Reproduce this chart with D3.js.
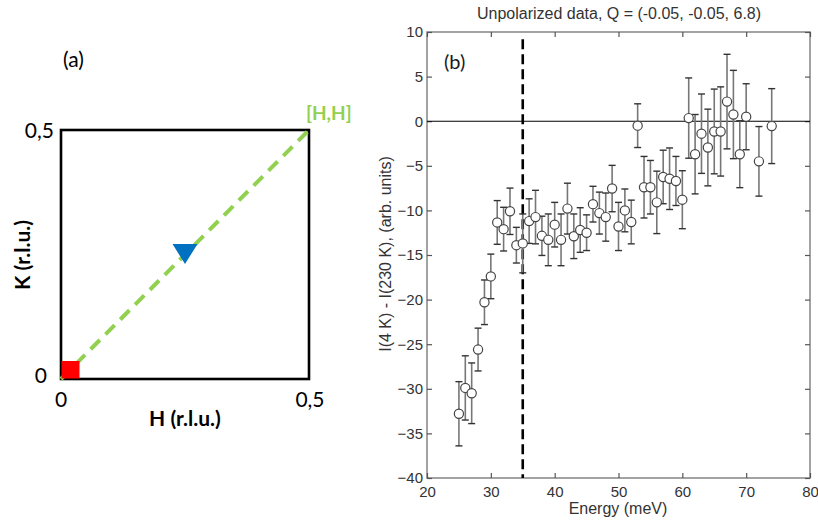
<!DOCTYPE html>
<html>
<head>
<meta charset="utf-8">
<script src="https://cdn.jsdelivr.net/npm/d3@7"></script>
<style>
  html, body { margin: 0; padding: 0; background: #fff; }
  svg { display: block; }
</style>
</head>
<body>
<svg id="chart" width="818" height="520"></svg>
<script>
// ---------- Panel (a) data ----------
const hkDomain = [0, 0.5];
const hkTickLabels = ["0", "0,5"];
const pathHH = [[0, 0], [0.5, 0.5]];
const redSquarePoint = [0, 0];
const blueTrianglePoint = [0.25, 0.25];

// ---------- Panel (b) data ----------
const energy = [25,26,27,28,29,30,31,32,33,34,35,36,37,38,39,40,41,42,43,44,45,46,47,48,49,50,
                51,52,53,54,55,56,57,58,59,60,61,62,63,64,65,66,67,68,69,70,72,74];
const intensity = [-32.8,-29.9,-30.5,-25.6,-20.3,-17.4,-11.35,-12.1,-10.1,-13.9,-13.7,-11.2,-10.75,-12.85,-13.3,-11.6,-13.3,-9.8,-12.9,-12.2,-12.5,-9.3,-10.3,-10.75,-7.55,-11.8,
                   -10.0,-11.3,-0.5,-7.4,-7.4,-9.1,-6.25,-6.45,-6.7,-8.8,0.35,-3.7,-1.4,-2.95,-1.15,-1.15,2.2,0.75,-3.7,0.5,-4.5,-0.55];
const errors = [3.6,3.6,3.4,2.4,2.5,2.5,2.45,2.45,2.6,2.0,3.3,2.5,3.0,2.2,2.9,2.5,2.9,2.85,2.5,2.5,2.0,2.0,2.35,2.7,2.6,2.7,
                2.4,2.45,2.45,3.45,3.0,3.5,3.0,3.45,2.75,3.25,4.5,4.45,4.45,4.3,4.75,5.0,5.3,4.95,3.75,3.7,3.9,4.2];
const energyTicks = [20,30,40,50,60,70,80];
const intensityTicks = [-40,-35,-30,-25,-20,-15,-10,-5,0,5,10];
const gapEnergy = 35;

const svg = d3.select("#chart");

// ================= Panel (a) =================
const ax = d3.scaleLinear().domain(hkDomain).range([61, 309]);
const ay = d3.scaleLinear().domain(hkDomain).range([379, 130]);
const fa = "Lato, 'Open Sans', sans-serif";
const fsA = 21;
const ga = svg.append("g");

ga.append("rect")
  .attr("x", ax(0)).attr("y", ay(0.5))
  .attr("width", ax(0.5) - ax(0)).attr("height", ay(0) - ay(0.5))
  .attr("fill", "none").attr("stroke", "#000").attr("stroke-width", 2.6);

ga.append("path")
  .datum(pathHH)
  .attr("d", d3.line().x(d => ax(d[0])).y(d => ay(d[1])))
  .attr("stroke", "#92d050").attr("stroke-width", 4)
  .attr("stroke-dasharray", "13,8").attr("fill", "none");

ga.append("rect")
  .attr("x", ax(redSquarePoint[0]) + 0.5).attr("y", ay(redSquarePoint[1]) - 18)
  .attr("width", 18).attr("height", 17.5)
  .attr("fill", "#ff0000");

ga.append("path")
  .attr("transform", `translate(${ax(blueTrianglePoint[0])},${ay(blueTrianglePoint[1])})`)
  .attr("d", "M-12.5,-10.5 L12.5,-10.5 L0,9.5 Z")
  .attr("fill", "#0070c0");

// tick labels
ga.append("text").attr("x", 54).attr("y", ay(0.5) + 8).attr("text-anchor", "end")
  .attr("font-family", fa).attr("font-size", fsA).text(hkTickLabels[1]);
ga.append("text").attr("x", 47).attr("y", ay(0) + 4).attr("text-anchor", "end")
  .attr("font-family", fa).attr("font-size", fsA).text(hkTickLabels[0]);
ga.append("text").attr("x", ax(0)).attr("y", 407).attr("text-anchor", "middle")
  .attr("font-family", fa).attr("font-size", fsA).text(hkTickLabels[0]);
ga.append("text").attr("x", ax(0.5)+1).attr("y", 407).attr("text-anchor", "middle")
  .attr("font-family", fa).attr("font-size", fsA).text(hkTickLabels[1]);

ga.append("text").attr("x", 185).attr("y", 426).attr("text-anchor", "middle")
  .attr("font-family", fa).attr("font-size", fsA).attr("font-weight", "bold").text("H (r.l.u.)");
ga.append("text").attr("transform", "translate(30,255) rotate(-90)").attr("text-anchor", "middle")
  .attr("font-family", fa).attr("font-size", fsA).attr("font-weight", "bold").text("K (r.l.u.)");
ga.append("text").attr("x", 63).attr("y", 67)
  .attr("font-family", fa).attr("font-size", fsA).text("(a)");
ga.append("text").attr("x", 306).attr("y", 120)
  .attr("font-family", fa).attr("font-size", 19).attr("font-weight", "bold").attr("fill", "#92d050").text("[H,H]");

// ================= Panel (b) =================
const fb = "'Liberation Sans', Arial, sans-serif";
const x = d3.scaleLinear().domain([20, 80]).range([427, 810]);
const y = d3.scaleLinear().domain([-40, 10]).range([478, 32]);
const gb = svg.append("g");

// frame
gb.append("rect")
  .attr("x", x(20)).attr("y", y(10))
  .attr("width", x(80) - x(20)).attr("height", y(-40) - y(10))
  .attr("fill", "none").attr("stroke", "#8c8c8c").attr("stroke-width", 1.6);

function styleAxis(g) {
  g.select(".domain").remove();
  g.selectAll(".tick line").attr("stroke", "#555").attr("stroke-width", 1.2);
  g.selectAll(".tick text").attr("fill", "#333").attr("font-family", fb).attr("font-size", 15);
}
gb.append("g").attr("transform", `translate(0,${y(-40)})`)
  .call(d3.axisBottom(x).tickValues(energyTicks).tickSizeInner(-5).tickSizeOuter(0).tickPadding(8))
  .call(styleAxis);
gb.append("g").attr("transform", `translate(0,${y(10)})`)
  .call(d3.axisTop(x).tickValues(energyTicks).tickSizeInner(-5).tickSizeOuter(0).tickFormat(""))
  .call(styleAxis);
gb.append("g").attr("transform", `translate(${x(20)},0)`)
  .call(d3.axisLeft(y).tickValues(intensityTicks).tickSizeInner(-5).tickSizeOuter(0).tickPadding(4))
  .call(styleAxis);
gb.append("g").attr("transform", `translate(${x(80)},0)`)
  .call(d3.axisRight(y).tickValues(intensityTicks).tickSizeInner(-5).tickSizeOuter(0).tickFormat(""))
  .call(styleAxis);

// zero line
gb.append("line")
  .attr("x1", x(20)).attr("x2", x(80)).attr("y1", y(0)).attr("y2", y(0))
  .attr("stroke", "#000").attr("stroke-width", 1.1);

// dashed vertical line
gb.append("line")
  .attr("x1", x(gapEnergy)).attr("x2", x(gapEnergy)).attr("y1", y(9.2)).attr("y2", y(-40))
  .attr("stroke", "#000").attr("stroke-width", 2.6).attr("stroke-dasharray", "10,5");

const data = energy.map((e, i) => ({ e, v: intensity[i], err: errors[i] }));

const eb = gb.append("g").selectAll("g").data(data).join("g");
eb.append("line")
  .attr("x1", d => x(d.e)).attr("x2", d => x(d.e))
  .attr("y1", d => y(d.v + d.err)).attr("y2", d => y(d.v - d.err))
  .attr("stroke", "#777").attr("stroke-width", 1.6);
eb.append("line")
  .attr("x1", d => x(d.e) - 3.5).attr("x2", d => x(d.e) + 3.5)
  .attr("y1", d => y(d.v + d.err)).attr("y2", d => y(d.v + d.err))
  .attr("stroke", "#333").attr("stroke-width", 1.4);
eb.append("line")
  .attr("x1", d => x(d.e) - 3.5).attr("x2", d => x(d.e) + 3.5)
  .attr("y1", d => y(d.v - d.err)).attr("y2", d => y(d.v - d.err))
  .attr("stroke", "#333").attr("stroke-width", 1.4);

gb.append("g").selectAll("circle").data(data).join("circle")
  .attr("cx", d => x(d.e)).attr("cy", d => y(d.v)).attr("r", 4.6)
  .attr("fill", "#fff").attr("stroke", "#444").attr("stroke-width", 1.2);

// labels
gb.append("text").attr("x", 619).attr("y", 19).attr("text-anchor", "middle")
  .attr("font-family", fb).attr("font-size", 16).attr("fill", "#333")
  .text("Unpolarized data, Q = (-0.05, -0.05, 6.8)");
gb.append("text").attr("x", 618).attr("y", 514).attr("text-anchor", "middle")
  .attr("font-family", fb).attr("font-size", 16).attr("fill", "#333")
  .text("Energy (meV)");
gb.append("text").attr("transform", "translate(391,254) rotate(-90)").attr("text-anchor", "middle")
  .attr("font-family", fb).attr("font-size", 16).attr("fill", "#333")
  .text("I(4 K) - I(230 K), (arb. units)");
gb.append("text").attr("x", 444).attr("y", 69)
  .attr("font-family", fa).attr("font-size", 20).attr("fill", "#1a1a1a").text("(b)");
</script>
</body>
</html>
